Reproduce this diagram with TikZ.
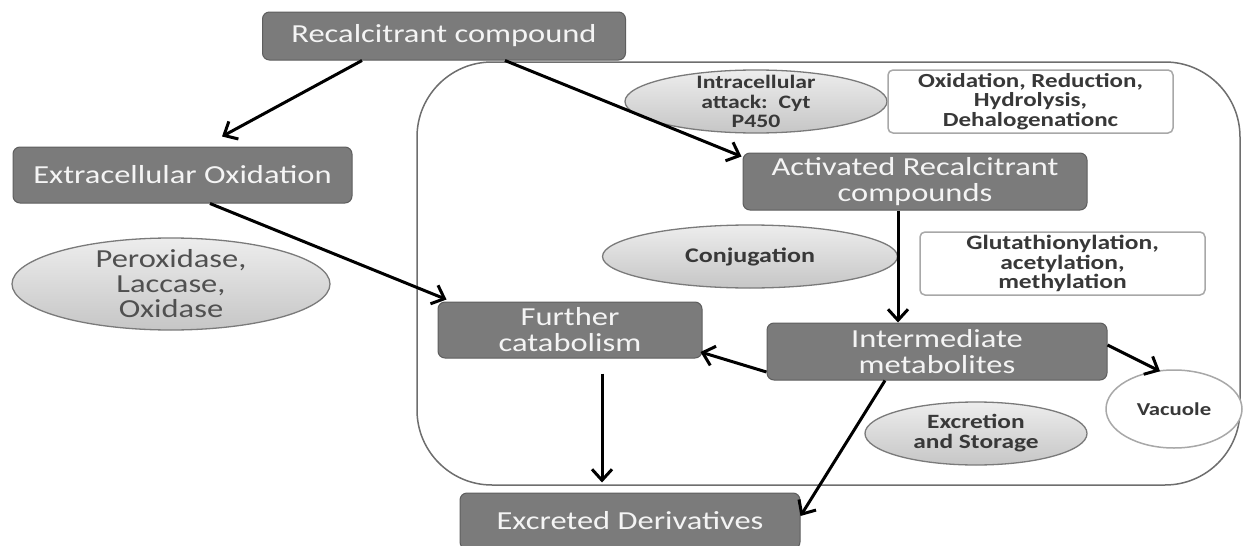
\documentclass[tikz,border=0pt]{standalone}
\usepackage{fontspec}
\setmainfont{Carlito}[FakeStretch=1.25]
\usetikzlibrary{arrows.meta,shapes.geometric}
\definecolor{boxfill}{HTML}{7B7B7B}
\definecolor{boxline}{HTML}{5E5E5E}
\definecolor{boxtext}{HTML}{F4F4F4}
\definecolor{elltop}{HTML}{EDEDED}
\definecolor{ellbot}{HTML}{C6C6C6}
\definecolor{ellline}{HTML}{7A7A7A}
\definecolor{elltext}{HTML}{383838}
\definecolor{pertext}{HTML}{505050}
\definecolor{wline}{HTML}{A8A8A8}
\definecolor{cellline}{HTML}{6E6E6E}
\tikzset{
  graybox/.style={rectangle, rounded corners=7pt, fill=boxfill, draw=boxline, line width=1pt,
    text=boxtext, align=center, inner sep=0pt, font=\fontsize{26}{26}\selectfont},
  grayell/.style={ellipse, top color=elltop, bottom color=ellbot, draw=ellline, line width=1.3pt, inner sep=0pt},
  ellbold/.style={font=\fontsize{19}{19.5}\selectfont\bfseries, text=elltext, align=center},
  whitebox/.style={rectangle, rounded corners=5pt, fill=white, draw=wline, line width=1.5pt,
    inner sep=0pt, align=center, text=elltext, font=\fontsize{20}{19.5}\selectfont\bfseries},
  flow/.style={-{Straight Barb[length=11pt,width=20pt,line width=3pt]}, line width=3pt, black},
  cellwall/.style={draw=cellline, line width=1.5pt, rounded corners=75pt}
}
\begin{document}
\begin{tikzpicture}[x=1pt,y=-1pt]
\useasboundingbox (0,0) rectangle (1243,546);
\fill[white] (0,0) rectangle (1243,546);
% cell
\draw[cellwall] (417,62) rectangle (1240,485);
% boxes
\node[graybox, minimum width=363pt, minimum height=48pt] (rc) at (444,36) {Recalcitrant compound};
\node[graybox, minimum width=339pt, minimum height=56pt] (ext) at (182.5,175) {Extracellular Oxidation};
\node[graybox, minimum width=344pt, minimum height=57pt] (act) at (915,181.5) {Activated Recalcitrant\\compounds};
\node[graybox, minimum width=264pt, minimum height=56pt] (fur) at (570,330) {Further\\catabolism};
\node[graybox, minimum width=340pt, minimum height=57pt] (int) at (937,351.5) {Intermediate\\metabolites};
\node[graybox, minimum width=340pt, minimum height=56pt] (exd) at (630,521) {Excreted Derivatives};
% ellipses
\node[grayell, minimum width=318pt, minimum height=92pt,
  label={[font=\fontsize{26}{25}\selectfont, text=pertext, align=center]center:Peroxidase,\\Laccase,\\Oxidase}] (per) at (171,284) {};
\node[grayell, minimum width=262pt, minimum height=63pt,
  label={[ellbold]center:Intracellular\\attack:\ \ Cyt\\P450}] (ica) at (756,101.5) {};
\node[grayell, minimum width=295pt, minimum height=63pt,
  label={[ellbold, font=\fontsize{20.8}{20}\selectfont\bfseries]center:Conjugation}] (conj) at (750,256.5) {};
\node[grayell, minimum width=222pt, minimum height=63pt,
  label={[ellbold, font=\fontsize{20.3}{20}\selectfont\bfseries]center:Excretion\\and Storage}] (exs) at (976,433.5) {};
\node[ellipse, fill=white, draw=wline, line width=1.5pt, inner sep=0pt, minimum width=136pt, minimum height=78pt,
  label={[ellbold, font=\fontsize{18.2}{18}\selectfont\bfseries]center:Vacuole}] (vac) at (1174,409) {};
% white boxes
\node[whitebox, minimum width=285pt, minimum height=63pt] (oxr) at (1030.5,101.5) {Oxidation, Reduction,\\Hydrolysis,\\Dehalogenationc};
\node[whitebox, minimum width=285pt, minimum height=63pt, font=\fontsize{20.4}{19.5}\selectfont\bfseries] (glu) at (1062.5,263.5) {Glutathionylation,\\acetylation,\\methylation};
% connectors
\draw[flow] ([xshift=-82pt]rc.south) -- ([xshift=39.5pt,yshift=10pt]ext.north);
\draw[flow] ([xshift=61pt]rc.south) -- ([xshift=-1pt,yshift=-4pt]act.north west);
\draw[flow] ([xshift=27.5pt]ext.south) -- ([xshift=9pt,yshift=2pt]fur.north west);
\draw[flow] ([xshift=-17pt]act.south) -- ([xshift=-39pt]int.north);
\draw[flow] ([yshift=-20.5pt]int.west) -- ([xshift=-2pt,yshift=-22pt]fur.east);
\draw[flow] ([xshift=32pt,yshift=-15pt]fur.south) -- ([xshift=-28pt,yshift=10pt]exd.north);
\draw[flow] ([xshift=-52pt]int.south) -- ([yshift=5pt]exd.east);
\draw[flow] ([yshift=6.5pt]int.east) -- ([xshift=-14pt,yshift=-2pt]vac.north);
\end{tikzpicture}
\end{document}
